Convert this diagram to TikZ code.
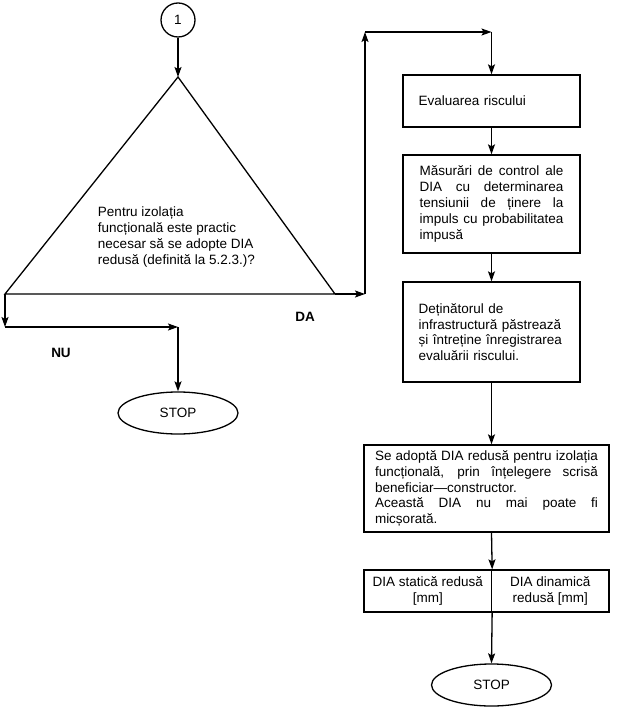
\documentclass[tikz,border=0pt]{standalone}
\usepackage{fontspec}
\setmainfont{Liberation Sans}
\usetikzlibrary{arrows.meta,shapes.geometric}
\setlength{\parindent}{0pt}
\newcommand{\textdia}{\fontsize{13.5}{15.8}\selectfont\hyphenpenalty=10000\exhyphenpenalty=10000}

\begin{document}
\begin{tikzpicture}[x=1pt,y=-1pt,>={Stealth[length=10pt,width=7pt,inset=2pt]},line width=1.3pt,
  caseta/.style={draw,font=\textdia,inner xsep=0pt,inner ysep=0pt,minimum width=177pt},
  capat/.style={draw,ellipse,font=\textdia,minimum width=120pt,minimum height=42pt,inner sep=0pt},
  etq/.style={font=\textdia\bfseries}]
  \useasboundingbox (0,0) rectangle (623,711);
  % conector de pornire si decizia
  \node[draw,circle,font=\textdia,minimum size=34pt,inner sep=0pt] (c1) at (178,20) {1};
  \coordinate (apex) at (178,77);
  \coordinate (bl) at (5,294);
  \coordinate (br) at (335,294);
  \draw[line join=miter] (apex) -- (br) -- (bl) -- cycle;
  \node[font=\textdia,align=left,anchor=west] (intreb) at (94,237)
    {Pentru izolația\\funcțională este practic\\necesar să se adopte DIA\\redusă (definită la 5.2.3.)?};
  \draw[->] (c1) -- (apex);
  % ramura NU
  \node[capat] (stop1) at (178,413) {STOP};
  \coordinate (nu1) at (5,327);
  \coordinate (nu2) at (stop1.north |- nu1);
  \draw[->] (bl) -- (nu1);
  \draw[->] (nu1) -- (nu2);
  \draw[->] (nu2) -- (stop1.north);
  \node[etq] (nu) at (61,353) {NU};
  % ramura DA
  \node[caseta,minimum height=52pt,text width=146pt,align=left] (eval) at (491.5,101) {Evaluarea riscului};
  \node[caseta,minimum height=98pt,text width=144pt,align=justify] (masur) at (491.5,204)
    {Măsurări de control ale\linebreak DIA cu determinarea\linebreak tensiunii de ținere la\linebreak impuls cu probabilitatea\linebreak impusă};
  \node[caseta,minimum height=100pt,text width=146pt,align=left] (detin) at (491.5,332)
    {Deținătorul de\\infrastructură păstrează\\și întreține înregistrarea\\evaluării riscului.};
  \node[caseta,minimum width=245pt,minimum height=87pt,text width=223pt,align=justify] (adopt) at (486.5,488.5)
    {Se adoptă DIA redusă pentru izolația\linebreak funcțională, prin înțelegere scrisă\linebreak beneficiar—constructor.\par Această DIA nu mai poate fi\linebreak micșorată.};
  \node[caseta,minimum width=127.5pt,minimum height=42pt,align=center] (stat) at (427.75,591) {DIA statică redusă\\{[mm]}};
  \node[caseta,minimum width=117.5pt,minimum height=42pt,align=center] (dinam) at (550.25,591) {DIA dinamică\\redusă [mm]};
  \node[capat] (stop2) at (491.5,685) {STOP};
  \coordinate (da1) at (365,294);
  \coordinate (da2) at (365,32);
  \coordinate (da3) at (eval.north |- da2);
  \draw[->] (br) -- (da1);
  \draw[->] (da1) -- (da2);
  \draw[->] (da2) -- (da3);
  \draw[->] (da3) -- (eval.north);
  \node[etq] (da) at (305,317) {DA};
  \draw[->] (eval.south) -- (masur.north);
  \draw[->] (masur.south) -- (detin.north);
  \draw[->] (detin.south) -- (detin.south |- adopt.north);
  \draw[->] (detin.south |- adopt.south) -- (stat.north east);
  \draw[->] (stat.south east) -- (stop2.north);
\end{tikzpicture}
\end{document}
